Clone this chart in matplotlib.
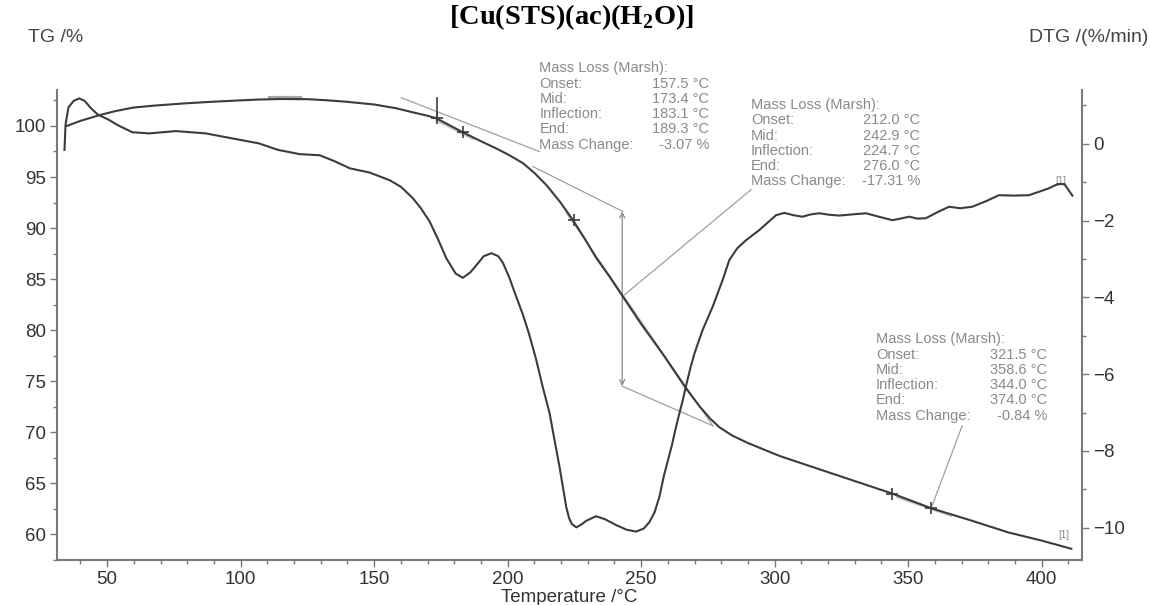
import matplotlib
matplotlib.use("Agg")
import matplotlib.pyplot as plt

plt.rcParams['mathtext.fontset'] = 'custom'
plt.rcParams['mathtext.rm'] = 'Liberation Serif'
plt.rcParams['mathtext.bf'] = 'Liberation Serif:bold'
plt.rcParams['font.family'] = ['Liberation Sans', 'DejaVu Sans']

# ---------------- data ----------------
tg_temp = [34.9, 40.0, 47.3, 53.0, 59.8, 68.0, 78.5, 88.0, 97.2, 106.0, 114.7, 125.0, 132.0,
           139.6, 150.0, 158.3, 165.0, 169.5, 173.3, 178.0, 183.2, 190.0, 195.7, 200.5,
           205.7, 210.0, 214.4, 219.5, 224.4, 229.0, 233.1, 238.0, 243.1, 250.0, 258.0,
           266.8, 272.0, 276.0, 279.3, 284.0, 290.0, 301.7, 320.0, 344.1, 358.8, 373.2,
           387.5, 400.0, 411.1]
tg_mass = [100.0, 100.5, 101.07, 101.45, 101.8, 102.0, 102.2, 102.35, 102.47, 102.58, 102.64,
           102.62, 102.52, 102.37, 102.1, 101.73, 101.3, 101.03, 100.75, 100.1, 99.38, 98.5,
           97.8, 97.15, 96.36, 95.4, 94.24, 92.6, 90.8, 88.9, 87.1, 85.3, 83.3, 80.6, 77.7,
           74.3, 72.5, 71.3, 70.5, 69.7, 68.95, 67.7, 66.1, 64.0, 62.55, 61.4, 60.2, 59.4, 58.6]

dtg_temp = [34.0, 34.4, 35.5, 37.5, 39.5, 41.5, 44.0, 46.5, 50.7, 53.8, 59.4, 65.7, 75.7, 86.9,
            96.8, 106.8, 114.0, 122.1, 129.6, 135.0, 140.9, 148.3, 155.8, 160.0, 164.5, 167.5,
            170.8, 174.0, 177.0, 180.5, 183.2, 186.0, 188.3, 191.0, 193.9, 196.5, 198.2, 200.7,
            202.5, 205.7, 208.0, 210.7, 213.0, 215.7, 217.5, 219.4, 220.7, 221.9, 223.0, 224.0,
            225.7, 227.5, 229.4, 233.1, 236.5, 240.6, 244.5, 248.1, 251.0, 253.1, 255.0, 256.8,
            258.5, 260.0, 261.5, 262.8, 264.3, 265.5, 266.8, 268.4, 270.0, 271.5, 273.0, 276.8,
            280.5, 283.0, 286.0, 289.3, 294.2, 300.5, 303.6, 307.0, 310.4, 313.5, 316.7, 320.5,
            324.2, 329.0, 334.2, 339.0, 344.1, 347.0, 350.4, 353.5, 356.6, 361.0, 365.3, 369.5,
            374.0, 379.0, 384.0, 389.5, 395.2, 399.0, 402.7, 406.0, 408.5, 411.5]
dtg_rate = [-0.16, 0.50, 0.95, 1.12, 1.18, 1.12, 0.92, 0.76, 0.62, 0.49, 0.30, 0.27, 0.33, 0.27,
            0.14, 0.01, -0.16, -0.27, -0.30, -0.45, -0.64, -0.75, -0.95, -1.12, -1.42, -1.68,
            -2.03, -2.50, -2.98, -3.38, -3.49, -3.35, -3.16, -2.93, -2.85, -2.93, -3.10, -3.50,
            -3.85, -4.45, -4.95, -5.63, -6.30, -7.02, -7.70, -8.41, -8.95, -9.45, -9.75, -9.90,
            -9.99, -9.92, -9.82, -9.70, -9.78, -9.93, -10.05, -10.10, -10.02, -9.85, -9.60, -9.20,
            -8.65, -8.25, -7.85, -7.45, -7.02, -6.70, -6.30, -5.85, -5.45, -5.15, -4.85, -4.24,
            -3.55, -3.03, -2.72, -2.51, -2.25, -1.86, -1.80, -1.86, -1.90, -1.84, -1.81, -1.85,
            -1.87, -1.84, -1.81, -1.90, -1.99, -1.95, -1.90, -1.95, -1.94, -1.78, -1.64, -1.68,
            -1.64, -1.50, -1.34, -1.35, -1.34, -1.25, -1.16, -1.05, -1.05, -1.35]

# characteristic points (+ marks) on the TG curve
mark_temp = [173.4, 183.1, 224.7, 344.0, 358.6]
mark_mass = [100.75, 99.4, 90.8, 64.0, 62.55]

# Marsh evaluation construction lines (temperature, mass)
step1_tangent = ([160.2, 211.9], [102.76, 97.49])
step1_bar = ([173.4, 173.4], [102.76, 100.75])
step1_infl = ([173.4, 187.0], [100.55, 98.75])
step2_upper = ([209.4, 243.1], [96.03, 91.63])
step2_lower = ([242.7, 276.8], [74.54, 70.64])
step2_infl = ([222.0, 276.8], [91.5, 70.64])
step2_leader = ([291.1, 243.1], [93.75, 83.33])
step2_arrow = (242.9, 91.63, 74.54)
step3_leader = ([370.2, 358.8], [70.64, 62.7])
step3_infl = ([346.0, 366.0], [63.65, 61.85])
plateau_mark = ([110.2, 123.0], [102.76, 102.76])

box_labels = ["Mass Loss (Marsh):", "Onset:", "Mid:", "Inflection:", "End:", "Mass Change:"]
box1_values = ["", "157.5 °C", "173.4 °C", "183.1 °C", "189.3 °C", "-3.07 %"]
box2_values = ["", "212.0 °C", "242.9 °C", "224.7 °C", "276.0 °C", "-17.31 %"]
box3_values = ["", "321.5 °C", "358.6 °C", "344.0 °C", "374.0 °C", "-0.84 %"]
box_anchor = [(211.9, 275.5, 105.63), (291.1, 354.5, 102.05), (337.9, 402.0, 79.1)]
row_step = 1.494

x_major = list(range(50, 401, 50))
x_minor = list(range(40, 411, 10))
tg_major = list(range(60, 101, 5))
tg_minor = [57.5 + 2.5 * i for i in range(19)]
dtg_major = list(range(-10, 1, 2))
dtg_minor = list(range(-10, 2, 1))

# ---------------- figure ----------------
W, H = 1150, 605
fig = plt.figure(figsize=(W / 100, H / 100), dpi=100)
L, R, T, B = 57, 1082, 90, 560
ax = fig.add_axes([L / W, 1 - B / H, (R - L) / W, (B - T) / H])
ax2 = ax.twinx()

axc = '#7a7a7a'
curve_c = '#3c3c3c'
line_c = '#a0a0a0'
text_c = '#8a8a8a'

ax.set_xlim(31.2, 415.1)
ax.set_ylim(57.62, 103.52)
ax2.set_ylim(-10.84, 1.40)

for a in (ax, ax2):
    a.spines['top'].set_visible(False)
    for s in ('left', 'right', 'bottom'):
        a.spines[s].set_color(axc)
        a.spines[s].set_linewidth(1.5)
ax.spines['right'].set_visible(False)
ax2.spines['left'].set_visible(False)
ax2.spines['bottom'].set_visible(False)

ax.set_xticks(x_major)
ax.set_xticks(x_minor, minor=True)
ax.set_yticks(tg_major)
ax.set_yticks(tg_minor, minor=True)
ax2.set_yticks(dtg_major)
ax2.set_yticks(dtg_minor, minor=True)
for a in (ax, ax2):
    a.tick_params(which='major', direction='out', length=5, width=1.0, color=axc,
                  labelsize=13.5, labelcolor='#333333', pad=3)
    a.tick_params(which='minor', direction='out', length=3, width=1.0, color=axc)

ax.set_xlabel('Temperature /°C', fontsize=13.5, color='#333333', labelpad=1)

# curves
ax.plot(tg_temp, tg_mass, color=curve_c, lw=1.5, zorder=5, solid_joinstyle='round')
ax2.plot(dtg_temp, dtg_rate, color=curve_c, lw=1.5, zorder=5, solid_joinstyle='round')

# construction lines
for xs, ys in (step1_tangent, step2_upper, step2_lower, step2_infl, step2_leader, step3_leader):
    ax.plot(xs, ys, color=line_c, lw=0.9, zorder=3)
for xs, ys in (step1_infl, step3_infl):
    ax.plot(xs, ys, color='#c4c4c4', lw=1.8, zorder=4)
ax.plot(*step1_bar, color=curve_c, lw=1.2, zorder=4)
ax.plot(*plateau_mark, color='#a8a8a8', lw=3, zorder=4, solid_capstyle='butt')
ax.annotate('', xy=(step2_arrow[0], step2_arrow[2]), xytext=(step2_arrow[0], step2_arrow[1]),
            arrowprops=dict(arrowstyle='<->', color='#888888', lw=0.9, mutation_scale=9,
                            shrinkA=0, shrinkB=0), zorder=3)
ax.plot(mark_temp, mark_mass, '+', color=curve_c, ms=9, mew=1.2, zorder=6)

# evaluation boxes
for (xl, xr, y0), vals in zip(box_anchor, (box1_values, box2_values, box3_values)):
    for i, (lab, val) in enumerate(zip(box_labels, vals)):
        y = y0 - i * row_step
        ax.text(xl, y, lab, fontsize=10.5, color=text_c, ha='left', va='center', clip_on=False)
        if val:
            ax.text(xr, y, val, fontsize=10.5, color=text_c, ha='right', va='center', clip_on=False)

ax2.text(407.2, -0.97, '[1]', fontsize=7, color=text_c, ha='center', va='center')
ax.text(408.2, 59.9, '[1]', fontsize=7, color=text_c, ha='center', va='center')

# axis titles and title
fig.text(28 / W, 1 - 37 / H, 'TG /%', fontsize=14, color='#444444', ha='left', va='center')
fig.text(1148 / W, 1 - 37 / H, 'DTG /(%/min)', fontsize=14, color='#444444', ha='right', va='center')
fig.text(572 / W, 1 - 17 / H, r'[Cu(STS)(ac)(H$_\mathbf{2}$O)]', fontsize=20.5, fontweight='bold',
         family='Liberation Serif', ha='center', va='center', color='black')

fig.savefig('out.png', dpi=100)
